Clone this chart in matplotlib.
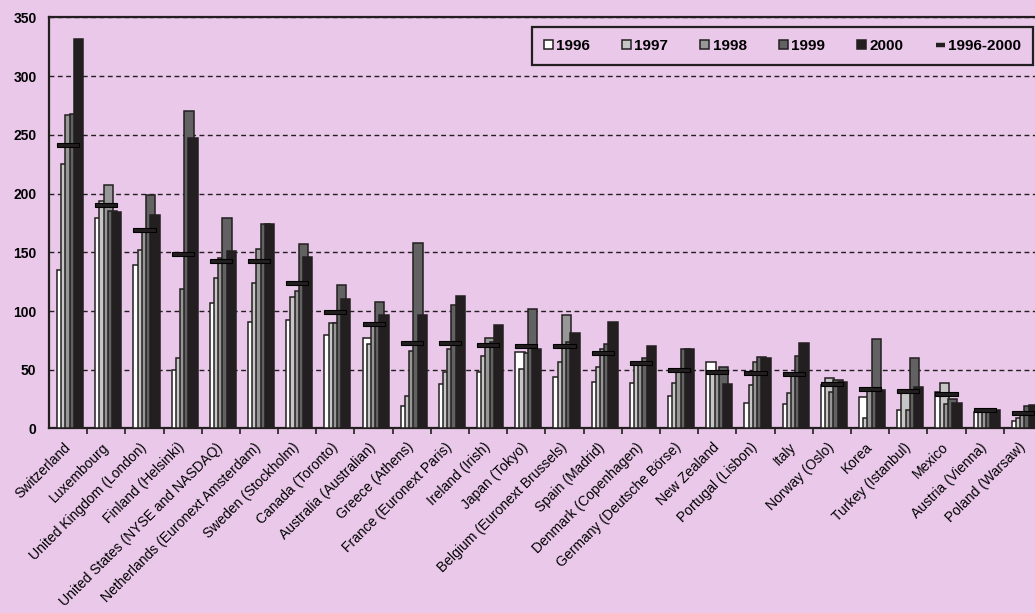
import numpy as np
import matplotlib
matplotlib.use("Agg")
import matplotlib.pyplot as plt
import matplotlib.transforms as mtransforms
from matplotlib.lines import Line2D
from matplotlib.ticker import MultipleLocator, FixedLocator

plt.rcParams['font.family'] = ['Liberation Sans', 'DejaVu Sans']

# data
countries = ["Switzerland", "Luxembourg", "United Kingdom (London)", "Finland (Helsinki)",
             "United States (NYSE and NASDAQ)", "Netherlands (Euronext Amsterdam)",
             "Sweden (Stockholm)", "Canada (Toronto)", "Australia (Australian)",
             "Greece (Athens)", "France (Euronext Paris)", "Ireland (Irish)", "Japan (Tokyo)",
             "Belgium (Euronext Brussels)", "Spain (Madrid)", "Denmark (Copenhagen)",
             "Germany (Deutsche Börse)", "New Zealand", "Portugal (Lisbon)", "Italy",
             "Norway (Oslo)", "Korea", "Turkey (Istanbul)", "Mexico", "Austria (Vienna)",
             "Poland (Warsaw)"]
years = ["1996", "1997", "1998", "1999", "2000"]
v1996 = [135, 179, 139, 50, 107, 91, 92, 80, 77, 19, 38, 48, 65, 44, 40, 39, 28, 57, 22, 21, 37, 27, 16, 31, 14, 6]
v1997 = [225, 194, 152, 60, 128, 124, 112, 90, 72, 28, 48, 62, 51, 57, 52, 55, 39, 48, 37, 30, 43, 9, 30, 39, 17, 9]
v1998 = [267, 207, 168, 119, 145, 153, 117, 90, 89, 66, 68, 77, 64, 97, 68, 57, 50, 48, 57, 45, 31, 32, 16, 21, 17, 13]
v1999 = [268, 185, 199, 270, 179, 174, 157, 122, 108, 158, 105, 74, 102, 74, 72, 60, 68, 52, 61, 62, 41, 76, 60, 25, 17, 19]
v2000 = [332, 184, 182, 247, 151, 174, 146, 110, 97, 97, 113, 88, 68, 81, 91, 70, 68, 38, 60, 73, 40, 33, 35, 22, 16, 20]
avg = [241, 190, 169, 149, 143, 143, 124, 99, 89, 73, 73, 71, 70, 70, 64, 56, 50, 48, 47, 46, 38, 34, 32, 29, 16, 13]

colors = ["#FFFFFF", "#C6C6C6", "#979797", "#626262", "#231F20"]
bg = "#E9C8E9"
dark = "#231F20"

fig = plt.figure(figsize=(10.35, 6.13), dpi=100, facecolor=bg)
ax = fig.add_axes([0.0473, 0.301, 0.9594, 0.6705], facecolor=bg)

x = np.arange(len(countries))
w = 0.245      # width of one bar
step = 0.11    # overlapping offset between bars
series = [v1996, v1997, v1998, v1999, v2000]
handles = []
for i, vals in enumerate(series):
    b = ax.bar(x - 0.29 + w / 2 + i * step, vals, width=w, color=colors[i],
               edgecolor=dark, linewidth=1.1, zorder=3 + i, label=years[i])
    handles.append(b)

# 1996-2000 average as a thick dash
thick = 3.4
ax.bar(x, [thick] * len(avg), bottom=np.array(avg) - thick / 2, width=0.58,
       color=dark, edgecolor="black", linewidth=0.8, zorder=9)
handles.append(Line2D([], [], color=dark, lw=3.2, solid_capstyle="butt"))

ax.set_xlim(-0.5, len(countries) - 0.5)
ax.set_ylim(0, 350)
ax.yaxis.set_major_locator(MultipleLocator(50))
ax.set_axisbelow(True)
ax.yaxis.grid(True, color=dark, linestyle=(0, (3.5, 2.5)), linewidth=1.0)

ax.set_xticks(x)
ax.set_xticklabels(countries, rotation=45, ha="right", va="center",
                   rotation_mode="anchor", fontsize=10)
shift = mtransforms.ScaledTranslation(-6 / 100, 0, fig.dpi_scale_trans)
for t in ax.get_xticklabels():
    t.set_transform(t.get_transform() + shift)
ax.xaxis.set_minor_locator(FixedLocator(np.arange(0.5, len(countries) - 0.5, 1)))
ax.tick_params(axis="x", which="major", length=0, pad=12)
ax.tick_params(axis="x", which="minor", length=4, width=1.2, color=dark)
ax.tick_params(axis="y", length=0, pad=9, labelsize=10)
for t in ax.get_yticklabels():
    t.set_fontweight("bold")

for s in ax.spines.values():
    s.set_color(dark)
    s.set_linewidth(1.6)

leg = ax.legend(handles, years + ["1996-2000"], loc="center", ncol=6,
                bbox_to_anchor=(0.486, 0.883, 0.505, 0.096), mode="expand",
                prop={"weight": "bold", "size": 11}, fancybox=False,
                facecolor=bg, edgecolor=dark, framealpha=1,
                handlelength=0.6, handleheight=0.6, handletextpad=0.2,
                borderpad=0.8, borderaxespad=0)
leg.get_frame().set_linewidth(1.6)
leg.set_zorder(20)

fig.savefig("out.png", dpi=100, facecolor=bg)
